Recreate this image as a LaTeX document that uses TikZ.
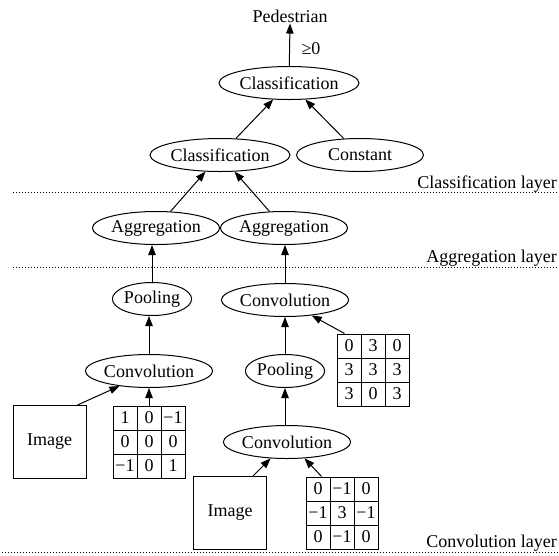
\documentclass[tikz,border=0pt]{standalone}
\usepackage{fontspec}
\setmainfont{Liberation Serif}
\usetikzlibrary{arrows.meta,calc,shapes.geometric}

% 3x3 convolution kernel: name, left x, top y, nine entries row by row
\newcommand\drawkernel[4]{%
  \node[kbox] (#1) at (#2+36,#3+36) {};
  \foreach \d in {24,48}{
    \draw[kline] (#2+\d,#3) -- (#2+\d,#3+72);
    \draw[kline] (#2,#3+\d) -- (#2+72,#3+\d);
  }
  \foreach \v [count=\k from 0] in {#4}{
    \pgfmathtruncatemacro\kcol{mod(\k,3)}
    \pgfmathtruncatemacro\krow{div(\k,3)}
    \node[kval] at (#2+12+24*\kcol,#3+12+24*\krow) {\v};
  }
}

\begin{document}
\begin{tikzpicture}[x=1pt,y=-1pt,
  every node/.style={font=\fontsize{18}{20}\selectfont},
  oval/.style={draw,ellipse,line width=1pt,inner sep=0pt,minimum height=33pt},
  imgbox/.style={draw,rectangle,line width=1pt,minimum size=73pt,inner sep=0pt},
  kbox/.style={draw,rectangle,line width=1pt,minimum size=72pt,inner sep=0pt},
  kline/.style={line width=1pt},
  kval/.style={inner sep=0pt},
  edge/.style={line width=1pt,-{Triangle[length=10pt,width=7.5pt]}},
  layerline/.style={line width=0.9pt,dash pattern=on 0.9pt off 2.1pt},
  layerlabel/.style={anchor=east,inner sep=0pt}
]
\useasboundingbox (0,0) rectangle (559,555);

% output
\node[inner sep=1pt] (ped) at (290,16) {Pedestrian};
\node[inner sep=0pt] (thr) at (311,49) {≥0};

% classification layer
\node[oval,minimum width=118pt] (clsTop) at (289,83) {Classification};
\node[oval,minimum width=120pt] (clsMid) at (220,155) {Classification};
\node[oval,minimum width=127pt] (const) at (360,155) {Constant};

% aggregation layer
\node[oval,minimum width=110pt] (aggL) at (156,228) {Aggregation};
\node[oval,minimum width=110pt] (aggR) at (284,228) {Aggregation};

% convolution layer, left branch
\node[oval,minimum width=78pt] (poolL) at (152,299) {Pooling};
\node[oval,minimum width=112pt] (convL) at (149,371) {Convolution};
\node[imgbox] (imgL) at (49.5,442) {Image};
\drawkernel{kerL}{113}{406}{1,0,−1,0,0,0,−1,0,1}

% convolution layer, right branch
\node[oval,minimum width=112pt] (convR) at (285,300) {Convolution};
\node[oval,minimum width=77pt] (poolR) at (285,371) {Pooling};
\drawkernel{kerTR}{337}{334}{0,3,0,3,3,3,3,0,3}
\node[oval,minimum width=112pt] (convB) at (287,442) {Convolution};
\node[imgbox] (imgR) at (230,513) {Image};
\drawkernel{kerR}{306}{477}{0,−1,0,−1,3,−1,0,−1,0}

% connectors
\draw[edge] (clsTop) -- (ped.south);
\draw[edge] (clsMid) -- (clsTop);
\draw[edge] (const) -- (clsTop);
\draw[edge] (aggL) -- (clsMid);
\draw[edge] (aggR) -- (clsMid);
\draw[edge] (poolL) -- (aggL.south -| poolL.north);
\draw[edge] (convR) -- (aggR.south -| convR.north);
\draw[edge] (convL) -- (poolL.south -| convL.north);
\draw[edge] ([xshift=-9pt]imgL.north east) -- (convL.207);
\draw[edge] (kerL.north) -- (convL.south);
\draw[edge] (poolR) -- (convR);
\draw[edge] ([xshift=8pt]kerTR.north west) -- (convR.-30);
\draw[edge] (convB.north -| poolR.south) -- (poolR.south);
\draw[edge] ([xshift=-14pt]imgR.north east) -- (convB.225);
\draw[edge] ([xshift=16pt]kerR.north west) -- (convB.-43);

% layer separators
\draw[layerline] (13,192) -- (559,192);
\node[layerlabel] (labCls) at (557,184) {Classification layer};
\draw[layerline] (13,267) -- (559,267);
\node[layerlabel] (labAgg) at (557,258) {Aggregation layer};
\draw[layerline] (2,552) -- (559,552);
\node[layerlabel] (labConv) at (557,543) {Convolution layer};
\end{tikzpicture}
\end{document}
